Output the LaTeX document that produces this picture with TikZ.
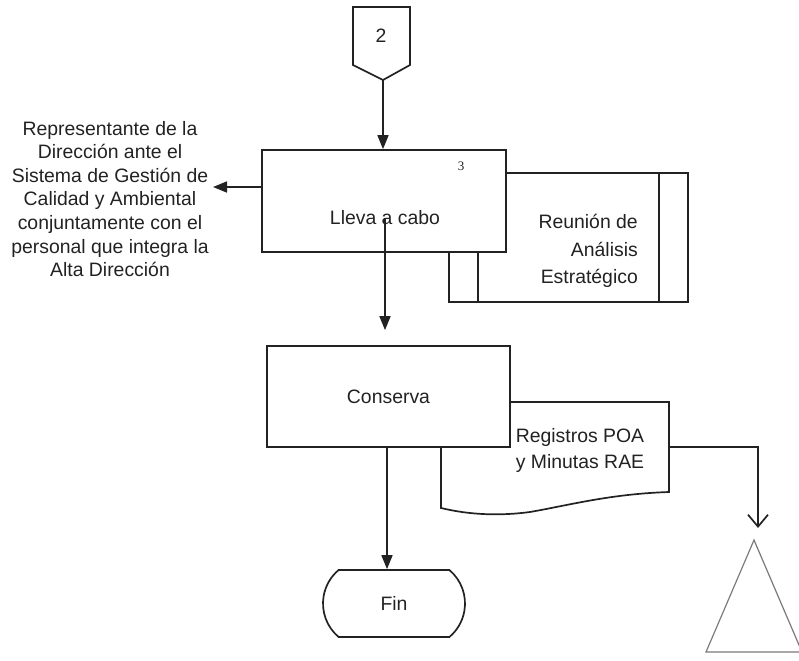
\documentclass[tikz,border=0pt]{standalone}
\usepackage{fontspec}
\setmainfont{Liberation Sans}
\newfontfamily\serifnum{Liberation Serif}
\usetikzlibrary{arrows.meta,shapes.misc}
\definecolor{ink}{HTML}{222222}
\definecolor{trigray}{HTML}{7A7A7A}
\begin{document}
\begin{tikzpicture}[x=1bp,y=-1bp,
  ln/.style={draw=ink, line width=1.7bp},
  arr/.style={ln, -{Triangle[length=14bp,width=11bp]}},
  openarr/.style={ln, -{Straight Barb[length=12bp,width=20bp]}},
  txt/.style={font=\fontsize{19.4bp}{23.6bp}\selectfont, text=ink, align=center, inner sep=0pt},
  procbox/.style={draw=ink, fill=white, line width=1.7bp, inner sep=0pt}]
\useasboundingbox (0,0) rectangle (799,661);

% off-page connector 2
\draw[ln] (353,7) -- (410,7) -- (410,65) -- (383,80) -- (353,65) -- cycle;
\node[txt] (c2) at (381,36) {2};
\coordinate (c2tip) at (383,80);

% Reunion (predefined process) behind
\node[procbox, minimum width=239bp, minimum height=129bp] (reunion) at (568.5,237.5) {};
\draw[ln] ([xshift=30bp]reunion.north west) -- ([xshift=30bp]reunion.south west);
\draw[ln] ([xshift=-30bp]reunion.north east) -- ([xshift=-30bp]reunion.south east);
\node[txt, align=right, anchor=east, font=\fontsize{19.4bp}{27.5bp}\selectfont] (reunion-t) at (638,251) {Reunión de\\Análisis\\Estratégico};

% Lleva a cabo
\node[procbox, minimum width=244bp, minimum height=102bp] (lleva) at (384,201) {};
\node[txt] (lleva-t) at (385,218) {Lleva a cabo};
\node[font=\serifnum\fontsize{13bp}{15bp}\selectfont, text=ink, inner sep=0pt] (num3) at (461,166) {3};

% left responsible text
\node[txt] (rep) at (110,199) {Representante de la\\Dirección ante el\\Sistema de Gestión de\\Calidad y Ambiental\\conjuntamente con el\\personal que integra la\\Alta Dirección};
\coordinate (rep-tip) at (213,187);

% document
\draw[ln, fill=white] (441,508) -- (441,402) -- (669,402) -- (669,492)
  .. controls (610,494) and (570,505) .. (530,512)
  .. controls (500,516) and (470,515) .. (441,508) -- cycle;
\node[txt, font=\fontsize{19.4bp}{26bp}\selectfont] (doc-t) at (580,450) {Registros POA\\y Minutas RAE};
\coordinate (doc-r) at (669,447);

% Conserva
\node[procbox, txt, draw=ink, minimum width=243bp, minimum height=101bp] (conserva) at (388.5,396.5) {Conserva};

% Fin
\node[ln, rounded rectangle, rounded rectangle arc length=100, minimum width=142bp, minimum height=67bp, txt] (fin) at (394,603.5) {Fin};

% triangle (archive)
\draw[draw=trigray, line width=1.2bp] (754,540) -- (802,652) -- (706,652) -- cycle;
\coordinate (tri-in) at (758,528);

% connectors
\draw[arr] (c2tip) -- (c2tip |- lleva.north);
\draw[arr] (lleva.west |- rep-tip) -- (rep-tip);
\draw[arr, shorten >=15bp] (lleva-t.center) -- (lleva-t.center |- conserva.north);
\draw[arr] ([xshift=-1.5bp]conserva.south) -- ([xshift=-1.5bp]conserva.south |- fin.north);
\draw[openarr] (doc-r) -| (tri-in);
\end{tikzpicture}
\end{document}
